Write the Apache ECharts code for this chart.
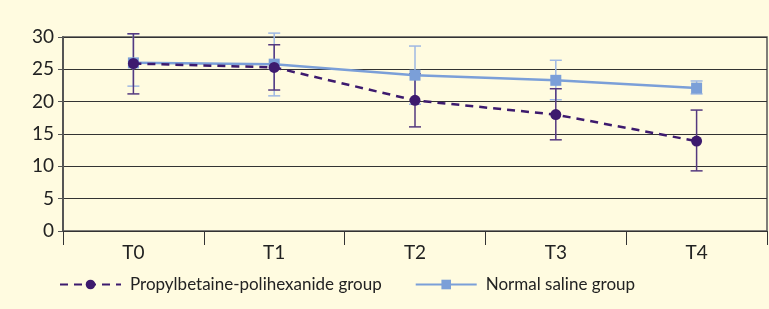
<!DOCTYPE html>
<html>
<head>
<meta charset="utf-8">
<script src="https://cdn.jsdelivr.net/npm/echarts@6/dist/echarts.min.js"></script>
<style>
  html, body { margin: 0; padding: 0; background: #fffbe0; }
  #chart { width: 769px; height: 309px; }
</style>
</head>
<body>
<div id="chart"></div>
<script>
var categories = ["T0", "T1", "T2", "T3", "T4"];
var pbpMean = [25.9, 25.3, 20.2, 18.0, 13.9];
var pbpLow = [21.2, 21.8, 16.1, 14.1, 9.3];
var pbpHigh = [30.5, 28.8, 24.3, 22.0, 18.7];
var nsMean = [26.0, 25.8, 24.1, 23.3, 22.1];
var nsLow = [22.4, 20.9, 19.6, 20.3, 21.2];
var nsHigh = [30.5, 30.6, 28.6, 26.4, 23.2];

var purple = "#3d1a6e";
var purpleBar = "#55397f";
var blue = "#7b9fd8";
var blueBar = "#9fb8e3";

// error bar drawn as custom series
function errorBars(low, high, color) {
  var data = categories.map(function (c, i) { return [i, low[i], high[i]]; });
  return {
    type: "custom",
    silent: true,
    data: data,
    renderItem: function (params, api) {
      var x = api.value(0);
      var lo = api.coord([x, api.value(1)]);
      var hi = api.coord([x, api.value(2)]);
      var half = 6;
      var st = { stroke: color, lineWidth: 1.5 };
      return {
        type: "group",
        children: [
          { type: "line", shape: { x1: hi[0], y1: hi[1], x2: lo[0], y2: lo[1] }, style: st },
          { type: "line", shape: { x1: hi[0] - half, y1: hi[1], x2: hi[0] + half, y2: hi[1] }, style: st },
          { type: "line", shape: { x1: lo[0] - half, y1: lo[1], x2: lo[0] + half, y2: lo[1] }, style: st }
        ]
      };
    },
    z: 3
  };
}

var myChart = echarts.init(document.getElementById("chart"));
myChart.setOption({
  backgroundColor: "#fffbe0",
  animation: false,
  textStyle: { fontFamily: "Lato" },
  grid: { left: 63, right: 2, top: 37, bottom: 78, show: true, borderColor: "#555", borderWidth: 1.5 },
  legend: {
    top: 271,
    left: 54,
    itemWidth: 61,
    itemHeight: 12,
    itemGap: 33,
    textStyle: { fontSize: 17, color: "#222", padding: [0, 0, 0, 4] },
    data: ["Propylbetaine-polihexanide group", "Normal saline group"]
  },
  xAxis: {
    type: "category",
    data: categories,
    boundaryGap: true,
    axisLine: { lineStyle: { color: "#333", width: 1.2 } },
    axisTick: { show: true, length: 14, lineStyle: { color: "#333" } },
    axisLabel: { fontSize: 19, color: "#222", margin: 12 }
  },
  yAxis: {
    type: "value",
    min: 0,
    max: 30,
    interval: 5,
    axisLine: { show: true, lineStyle: { color: "#555", width: 2 } },
    axisTick: { show: true, length: 5, lineStyle: { color: "#555" } },
    splitLine: { lineStyle: { color: "#333", width: 1.2 } },
    axisLabel: { fontSize: 19, color: "#222", margin: 9 }
  },
  series: [
    errorBars(nsLow, nsHigh, blueBar),
    {
      name: "Normal saline group",
      type: "line",
      data: nsMean,
      symbol: "rect",
      symbolSize: 11,
      lineStyle: { color: blue, width: 2.5 },
      itemStyle: { color: blue },
      z: 4
    },
    errorBars(pbpLow, pbpHigh, purpleBar),
    {
      name: "Propylbetaine-polihexanide group",
      type: "line",
      data: pbpMean,
      symbol: "circle",
      symbolSize: 11,
      lineStyle: { color: purple, width: 2.5, type: [8, 6] },
      itemStyle: { color: purple },
      z: 5
    }
  ]
});
</script>
</body>
</html>
